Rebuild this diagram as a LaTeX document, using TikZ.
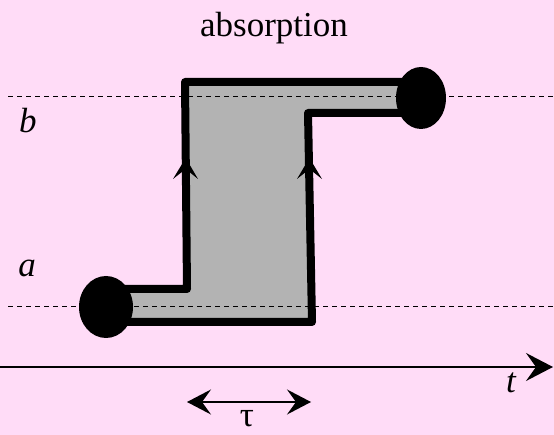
\documentclass[tikz,border=0pt]{standalone}
\usepackage{fontspec}
\setmainfont{Liberation Serif}
\usetikzlibrary{arrows.meta}
\definecolor{bgpink}{RGB}{255,220,247}
\definecolor{pathgray}{RGB}{179,179,179}
\tikzset{
  lbl/.style={anchor=base, inner sep=0pt, font=\fontsize{35}{40}\selectfont},
  guide/.style={dash pattern=on 5pt off 4pt, line width=1pt},
  bigtip/.style={-{Stealth[length=27pt,width=28pt,inset=10pt]}, line width=1.6pt},
  marktip/.style={fill=black},
}
\begin{document}
\begin{tikzpicture}[x=1pt,y=-1pt]

        \useasboundingbox (0,0) rectangle (554,435);
        \fill[bgpink] (0,0) rectangle (554,435);

        % title and level labels
        \node[lbl] (title) at (274,37) {absorption};
        \node[lbl] (lvlb) at (28,133) {\itshape b};
        \node[lbl] (lvla) at (27,277) {\itshape a};

        % the path: grey area first, levels on top of it
        \fill[pathgray] (106,289) -- (187,289) -- (185,82) -- (421,82) -- (421,113)
                        -- (308,113) -- (312,322) -- (106,322) -- cycle;
        \draw[guide] (8,97) -- (554,97);   % level b
        \draw[guide] (8,307) -- (554,307); % level a
        \draw[line width=8pt, line join=round] (106,289) -- (187,289) -- (185,82) -- (421,82);
        \draw[line width=8pt, line join=round] (421,113) -- (308,113) -- (312,322) -- (106,322);

        % direction marks on the vertical parts
        \fill[marktip] (185.7,158) -- (198,179) -- (185.7,169) -- (173,179) -- cycle;
        \fill[marktip] (309.4,158) -- (322,179) -- (309.4,169) -- (297,179) -- cycle;

        % end points
        \fill (106,307) ellipse (27pt and 31pt); % start on a
        \fill (421,98) ellipse (25pt and 31pt);  % end on b

        % time axis
        \coordinate (t0) at (0,367);
        \coordinate (t1) at (553,367);
        \draw[bigtip] (t0) -- (t1);
        \node[lbl] (tlbl) at (511,392) {\itshape t};

        % width tau
        \coordinate (w0) at (187,402);
        \coordinate (w1) at (311,402);
        \draw[line width=1.6pt, {Stealth[length=24pt,width=25pt,inset=9pt]}-{Stealth[length=24pt,width=25pt,inset=9pt]}] (w0) -- (w1);
        \node[lbl] (taulbl) at (247,426) {τ};

\end{tikzpicture}
\end{document}
